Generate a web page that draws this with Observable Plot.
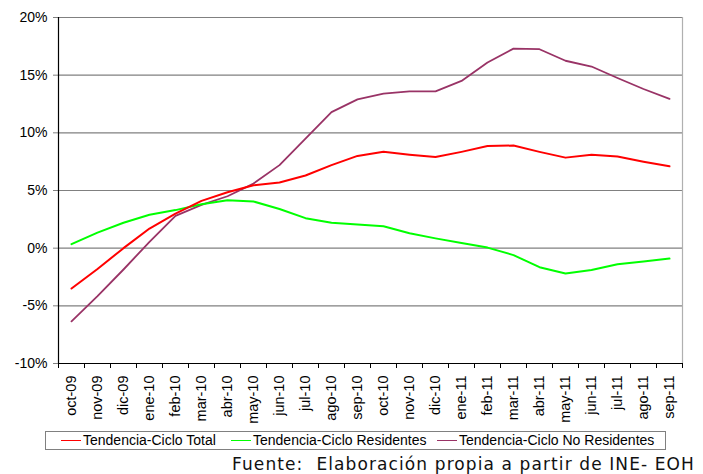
<!DOCTYPE html>
<html>
<head>
<meta charset="utf-8">
<script src="https://cdn.jsdelivr.net/npm/d3@7"></script>
<script src="https://cdn.jsdelivr.net/npm/@observablehq/plot@0.6"></script>
<style>
  html, body { margin: 0; padding: 0; background: #fff; }
  #wrap { position: relative; width: 703px; height: 474px; overflow: hidden; font-family: "Liberation Sans", Arial, sans-serif; }
  #chart svg { display: block; }
  #chart svg text { font-family: "Liberation Sans", Arial, sans-serif; }
  #legend { position: absolute; left: 45px; top: 431px; width: 619px; height: 17px; border: 1px solid #808080; box-sizing: content-box; font-size: 14px; line-height: 17px; white-space: nowrap; }
  #legend .item { position: absolute; top: 0; }
  #legend .sw { display: inline-block; width: 20px; height: 0; border-top: 1.5px solid; vertical-align: middle; margin-right: 2px; position: relative; top: -1px; }
  #caption { position: absolute; left: 232px; top: 454px; font-family: "DejaVu Sans", sans-serif; font-size: 17px; letter-spacing: 1.1px; white-space: pre; color: #111; }
</style>
</head>
<body>
<div id="wrap">
  <div id="chart"></div>
  <div id="legend"></div>
  <div id="caption"></div>
</div>
<script>
const categories = ["oct-09","nov-09","dic-09","ene-10","feb-10","mar-10","abr-10","may-10","jun-10","jul-10","ago-10","sep-10","oct-10","nov-10","dic-10","ene-11","feb-11","mar-11","abr-11","may-11","jun-11","jul-11","ago-11","sep-11"];
const total = [-3.5,-1.8,0.0,1.7,3.0,4.1,4.85,5.45,5.7,6.3,7.2,8.0,8.35,8.1,7.9,8.35,8.85,8.9,8.35,7.85,8.1,7.95,7.5,7.1];
const residentes = [0.35,1.35,2.2,2.9,3.3,3.8,4.15,4.05,3.4,2.6,2.2,2.05,1.9,1.3,0.85,0.45,0.05,-0.6,-1.65,-2.2,-1.9,-1.4,-1.15,-0.9];
const noResidentes = [-6.35,-4.15,-1.85,0.55,2.8,3.75,4.5,5.6,7.2,9.5,11.8,12.9,13.4,13.6,13.6,14.5,16.1,17.3,17.25,16.25,15.75,14.75,13.8,12.95];
const seriesNames = ["Tendencia-Ciclo Total","Tendencia-Ciclo Residentes","Tendencia-Ciclo No Residentes"];
const seriesColors = ["#FF0000","#00FF00","#993366"];
const yTicks = [-10,-5,0,5,10,15,20];
const captionText = "Fuente:  Elaboración propia a partir de INE- EOH";

const seriesValues = [total, residentes, noResidentes];
const rows = [];
seriesValues.forEach((vals, s) => vals.forEach((v, i) => rows.push({i, v, s: seriesNames[s]})));
const idx = d3.range(categories.length);
const bounds = d3.range(categories.length + 1).map(i => i - 0.5);

const chart = Plot.plot({
  width: 703,
  height: 426,
  marginLeft: 58,
  marginRight: 21,
  marginTop: 17,
  marginBottom: 63,
  style: {fontFamily: "'Liberation Sans', Arial, sans-serif", fontSize: "13px", color: "#000", background: "#fff"},
  x: {domain: [-0.5, categories.length - 0.5]},
  y: {domain: [-10, 20]},
  color: {domain: seriesNames, range: seriesColors},
  marks: [
    Plot.ruleY(yTicks.filter(t => t > -10), {stroke: "#808080", strokeWidth: 1.2, strokeOpacity: 1}),
    Plot.ruleX([categories.length - 0.5], {stroke: "#b0b0b0", strokeWidth: 1.2}),
    Plot.axisY({ticks: yTicks, tickFormat: d => d + "%", tickSize: 5, tickPadding: 6, label: null, stroke: "#808080", fontSize: 14}),
    Plot.axisX({ticks: bounds, tickFormat: () => "", tickSize: 5, label: null}),
    Plot.axisX({ticks: idx, tickFormat: i => categories[i], tickSize: 0, tickPadding: 12, tickRotate: -90, label: null, fontSize: 14.5}),
    Plot.line(rows.filter(r => r.s === seriesNames[2]), {x: "i", y: "v", stroke: "s", strokeWidth: 1.8}),
    Plot.line(rows.filter(r => r.s === seriesNames[1]), {x: "i", y: "v", stroke: "s", strokeWidth: 2}),
    Plot.line(rows.filter(r => r.s === seriesNames[0]), {x: "i", y: "v", stroke: "s", strokeWidth: 2}),
    Plot.ruleX([-0.5], {stroke: "#000", strokeWidth: 1.2}),
    Plot.ruleY([-10], {stroke: "#000", strokeWidth: 1.2})
  ]
});
document.getElementById("chart").appendChild(chart);

const legend = document.getElementById("legend");
const lefts = [15, 185, 391];
seriesNames.forEach((n, k) => {
  const it = document.createElement("span");
  it.className = "item";
  it.style.left = lefts[k] + "px";
  const sw = document.createElement("span");
  sw.className = "sw";
  sw.style.borderTopColor = seriesColors[k];
  it.appendChild(sw);
  it.appendChild(document.createTextNode(n));
  legend.appendChild(it);
});
document.getElementById("caption").textContent = captionText;
</script>
</body>
</html>
